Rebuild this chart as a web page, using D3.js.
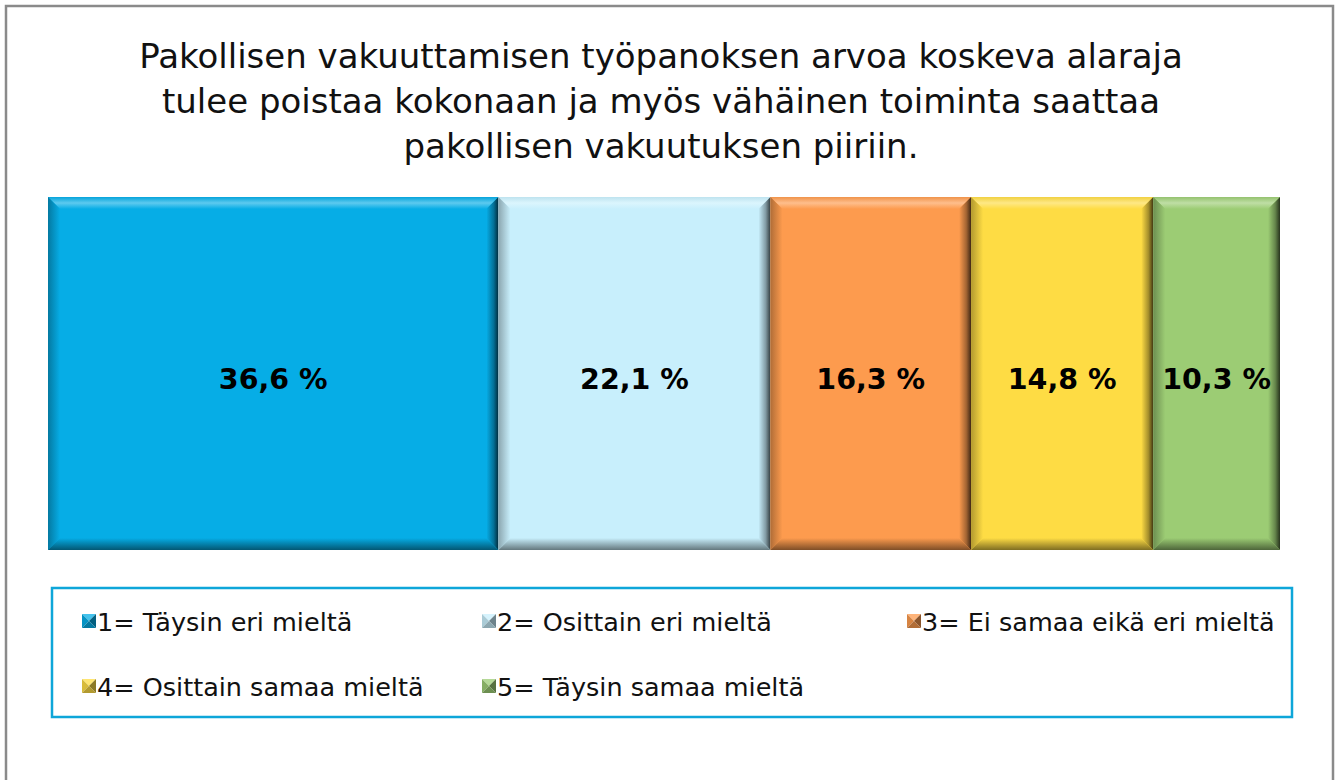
<!DOCTYPE html>
<html><head><meta charset="utf-8">
<script src="https://cdn.jsdelivr.net/npm/d3@7"></script>
<style>body{margin:0;background:#fff;}svg{display:block;}</style>
</head><body>
<script>
const categories = ["1= Täysin eri mieltä","2= Osittain eri mieltä","3= Ei samaa eikä eri mieltä","4= Osittain samaa mieltä","5= Täysin samaa mieltä"];
const values = [36.6, 22.1, 16.3, 14.8, 10.3];
const valueLabels = ["36,6 %","22,1 %","16,3 %","14,8 %","10,3 %"];
const colors = ["#06ade6","#c8effc","#fd9b4e","#fedc44","#9ccc74"];
const titleLines = ["Pakollisen vakuuttamisen työpanoksen arvoa koskeva alaraja","tulee poistaa kokonaan ja myös vähäinen toiminta saattaa","pakollisen vakuutuksen piiriin."];

const W=1338,H=780;
const font="'DejaVu Sans',sans-serif";
const svg=d3.select("body").append("svg").attr("width",W).attr("height",H);
svg.append("rect").attr("x",6).attr("y",6).attr("width",1327).attr("height",800).attr("fill","#fff").attr("stroke","#8a8a8a").attr("stroke-width",2.5);

svg.append("g").selectAll("text").data(titleLines).join("text")
 .attr("x",661).attr("y",(d,i)=>68+i*45).attr("text-anchor","middle")
 .attr("font-family",font).attr("font-size",34).attr("fill","#111").text(d=>d);

const total=d3.sum(values);
const x=d3.scaleLinear().domain([0,total]).range([48,1280]);
const y0=197,y1=550;
const cum=[];let acc=0;values.forEach(v=>{cum.push(acc);acc+=v;});
const defs=svg.append("defs");
function shade(c,k){return k>0?d3.interpolateRgb(c,"#fff")(k):d3.interpolateRgb(c,"#000")(-k);}
const b=12;
const g=svg.append("g");
values.forEach((v,i)=>{
  const a=x(cum[i]),e=x(cum[i]+v),c=colors[i];
  const gg=g.append("g");
  gg.append("rect").attr("x",a).attr("y",y0).attr("width",e-a).attr("height",y1-y0).attr("fill",c);
  const gt=defs.append("linearGradient").attr("id","gt"+i).attr("x1",0).attr("y1",0).attr("x2",0).attr("y2",1);
  gt.append("stop").attr("offset",0).attr("stop-color",shade(c,-0.05));
  gt.append("stop").attr("offset",0.5).attr("stop-color",shade(c,0.35));
  gt.append("stop").attr("offset",1).attr("stop-color",c);
  const gr=defs.append("linearGradient").attr("id","gr"+i).attr("x1",0).attr("y1",0).attr("x2",1).attr("y2",0);
  gr.append("stop").attr("offset",0).attr("stop-color",c);
  gr.append("stop").attr("offset",0.6).attr("stop-color",shade(c,-0.35));
  gr.append("stop").attr("offset",1).attr("stop-color",shade(c,-0.75));
  const gl=defs.append("linearGradient").attr("id","gl"+i).attr("x1",0).attr("y1",0).attr("x2",1).attr("y2",0);
  gl.append("stop").attr("offset",0).attr("stop-color",shade(c,-0.3));
  gl.append("stop").attr("offset",1).attr("stop-color",c);
  const gb=defs.append("linearGradient").attr("id","gb"+i).attr("x1",0).attr("y1",0).attr("x2",0).attr("y2",1);
  gb.append("stop").attr("offset",0).attr("stop-color",c);
  gb.append("stop").attr("offset",1).attr("stop-color",shade(c,-0.5));
  const P=pts=>pts.map(p=>p.join(",")).join(" ");
  gg.append("polygon").attr("points",P([[a,y0],[e,y0],[e-b,y0+b],[a+b,y0+b]])).attr("fill","url(#gt"+i+")");
  gg.append("polygon").attr("points",P([[a,y0],[a+b,y0+b],[a+b,y1-b],[a,y1]])).attr("fill","url(#gl"+i+")");
  gg.append("polygon").attr("points",P([[e,y0],[e,y1],[e-b,y1-b],[e-b,y0+b]])).attr("fill","url(#gr"+i+")");
  gg.append("polygon").attr("points",P([[a,y1],[a+b,y1-b],[e-b,y1-b],[e,y1]])).attr("fill","url(#gb"+i+")");
  gg.append("text").attr("x",(a+e)/2).attr("y",389).attr("text-anchor","middle")
    .attr("font-family",font).attr("font-weight","bold").attr("font-size",28.5).attr("fill","#000").text(valueLabels[i]);
});

svg.append("rect").attr("x",52).attr("y",588).attr("width",1240).attr("height",129).attr("fill","none").attr("stroke","#0ea6d9").attr("stroke-width",2.5);
const legPos=[[82,621],[482,621],[907,621],[82,686],[482,686]];
const lg=svg.append("g");
categories.forEach((cName,i)=>{
  const [lx,ly]=legPos[i];const s=14,c=colors[i];
  const m=lg.append("g").attr("transform",`translate(${lx},${ly-s/2})`);
  const cx=s/2,cy=s/2;
  m.append("polygon").attr("points",`0,0 ${s},0 ${cx},${cy}`).attr("fill",shade(c,0.25));
  m.append("polygon").attr("points",`0,0 0,${s} ${cx},${cy}`).attr("fill",shade(c,-0.15));
  m.append("polygon").attr("points",`${s},0 ${s},${s} ${cx},${cy}`).attr("fill",shade(c,-0.45));
  m.append("polygon").attr("points",`0,${s} ${s},${s} ${cx},${cy}`).attr("fill",shade(c,-0.3));
  lg.append("text").attr("x",lx+15).attr("y",ly+10).attr("font-family",font).attr("font-size",25.5).attr("fill","#111").text(cName);
});
</script>
</body></html>
